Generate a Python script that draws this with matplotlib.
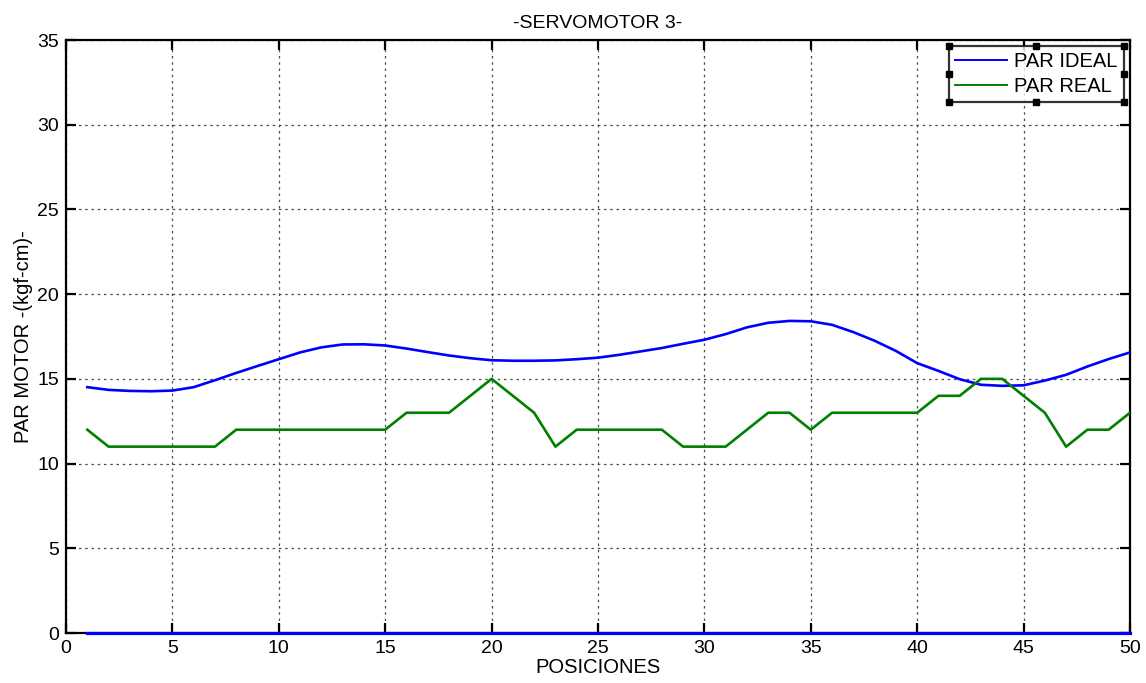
import numpy as np
import matplotlib
matplotlib.use("Agg")
import matplotlib.pyplot as plt
from matplotlib.lines import Line2D

plt.rcParams['font.family'] = ['Liberation Sans', 'DejaVu Sans']

# Positions of the servo (1..50)
posiciones = list(range(1, 51))

# Ideal torque (kgf-cm)
par_ideal = [14.51, 14.35, 14.29, 14.27, 14.31, 14.51, 14.92, 15.35, 15.76, 16.16,
             16.56, 16.86, 17.03, 17.04, 16.97, 16.79, 16.58, 16.38, 16.22, 16.10,
             16.07, 16.07, 16.09, 16.16, 16.25, 16.42, 16.62, 16.82, 17.07, 17.31,
             17.64, 18.04, 18.31, 18.42, 18.40, 18.19, 17.76, 17.25, 16.65, 15.93,
             15.47, 14.98, 14.65, 14.59, 14.62, 14.90, 15.24, 15.73, 16.17, 16.56]

# Measured torque (kgf-cm)
par_real = [12, 11, 11, 11, 11, 11, 11, 12, 12, 12,
            12, 12, 12, 12, 12, 13, 13, 13, 14, 15,
            14, 13, 11, 12, 12, 12, 12, 12, 11, 11,
            11, 12, 13, 13, 12, 13, 13, 13, 13, 13,
            14, 14, 15, 15, 14, 13, 11, 12, 12, 13]

# Zero reference series drawn along the bottom
par_cero = [0] * len(posiciones)

x_ticks = list(range(0, 51, 5))
y_ticks = list(range(0, 36, 5))

fig = plt.figure(figsize=(11.46, 6.83), dpi=100)
ax = fig.add_axes([0.0576, 0.0732, 0.9284, 0.8682])

ax.plot(posiciones, par_ideal, color=(0, 0, 1), lw=1.9, label='PAR IDEAL', zorder=4)
ax.plot(posiciones, par_real, color=(0, 0.5, 0), lw=1.9, label='PAR REAL', zorder=4)
ax.plot(posiciones, par_cero, color=(0, 0, 1), lw=2.3, clip_on=False, zorder=5)

ax.set_xlim(0, 50)
ax.set_ylim(0, 35)
ax.set_xticks(x_ticks)
ax.set_yticks(y_ticks)
ax.tick_params(direction='in', length=7, width=1.6, top=True, right=True,
               labelsize=14, pad=5, colors='black')
ax.grid(True, color='0.3', linestyle=(0, (2, 3)), linewidth=0.9)
for s in ax.spines.values():
    s.set_linewidth(1.6)
    s.set_color('black')

ax.set_title('-SERVOMOTOR 3-', fontsize=14, pad=9)
ax.set_xlabel('POSICIONES', fontsize=14.5, labelpad=1)
ax.set_ylabel('PAR MOTOR -(kgf-cm)-', fontsize=14.5, labelpad=3)

leg = ax.legend(loc='upper right', fontsize=14.5, frameon=True, fancybox=False,
                borderaxespad=0.3, handlelength=2.6, handletextpad=0.35,
                borderpad=0.3, labelspacing=0.3)
leg.get_frame().set_edgecolor('black')
leg.get_frame().set_linewidth(1.6)
for h in leg.get_lines():
    h.set_linewidth(1.4)

# Selection handles around the legend box
fig.canvas.draw()
bb = leg.get_window_extent().transformed(fig.transFigure.inverted())
xs = [bb.x0, (bb.x0 + bb.x1) / 2, bb.x1]
ys = [bb.y0, (bb.y0 + bb.y1) / 2, bb.y1]
hx, hy = [], []
for xi in xs:
    for yi in ys:
        if xi == xs[1] and yi == ys[1]:
            continue
        hx.append(xi)
        hy.append(yi)
fig.add_artist(Line2D(hx, hy, transform=fig.transFigure, linestyle='none',
                      marker='s', markersize=5, markerfacecolor='black',
                      markeredgecolor='black', zorder=10))

fig.savefig('out.png', dpi=100, facecolor='white')
